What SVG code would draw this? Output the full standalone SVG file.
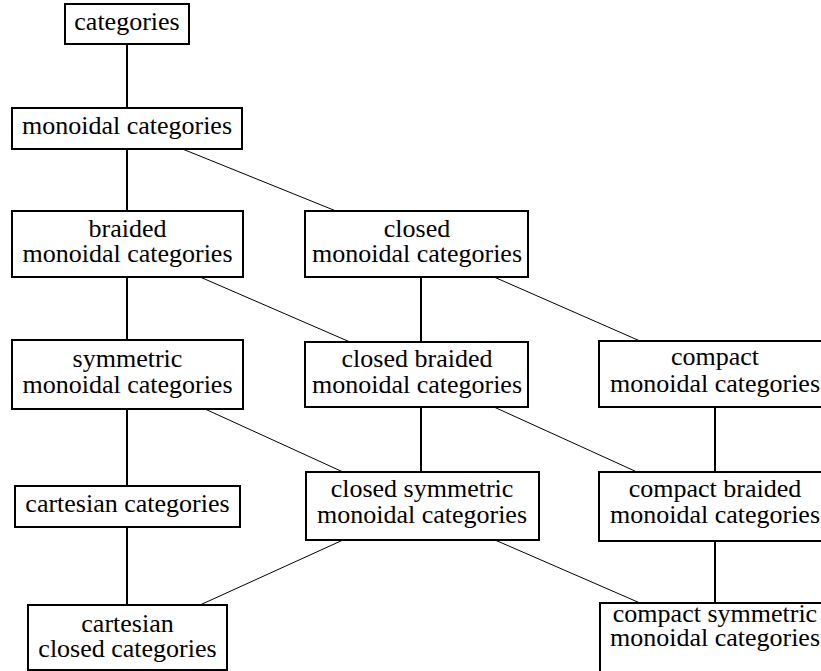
<svg xmlns="http://www.w3.org/2000/svg" width="821" height="671" viewBox="0 0 821 671">
<style>
.box{fill:#fff;stroke:#000;stroke-width:2}
.t{font-family:'Liberation Serif','Times New Roman','DejaVu Serif',serif;font-size:26px;fill:#000;text-anchor:middle}
.v{stroke:#000;stroke-width:2;fill:none}
.d{stroke:#000;stroke-width:1;fill:none}
</style>
<rect width="821" height="671" fill="#fff"/>
<g id="connectors">
<line class="v" x1="127" y1="44" x2="127" y2="108"/>
<line class="v" x1="127" y1="149" x2="127" y2="211"/>
<line class="v" x1="127" y1="277" x2="127" y2="340"/>
<line class="v" x1="127" y1="409" x2="127" y2="486"/>
<line class="v" x1="127" y1="527" x2="127" y2="605"/>
<line class="v" x1="421" y1="277" x2="421" y2="342"/>
<line class="v" x1="421" y1="407" x2="421" y2="472"/>
<line class="v" x1="715" y1="407" x2="715" y2="472"/>
<line class="v" x1="715" y1="541" x2="715" y2="603"/>
<line class="d" x1="180" y1="148" x2="336" y2="211"/>
<line class="d" x1="200" y1="277" x2="350" y2="342"/>
<line class="d" x1="494" y1="277" x2="640" y2="341"/>
<line class="d" x1="205" y1="409" x2="343" y2="472"/>
<line class="d" x1="494" y1="407" x2="637" y2="472"/>
<line class="d" x1="343" y1="540" x2="200" y2="605"/>
<line class="d" x1="495" y1="540" x2="640" y2="603"/>
</g>
<g id="n-categories"><rect class="box" x="65" y="4" width="124" height="40"/><text class="t" x="127" y="30">categories</text></g>
<g id="n-monoidal"><rect class="box" x="12" y="108" width="230" height="41"/><text class="t" x="127" y="134">monoidal categories</text></g>
<g id="n-braided"><rect class="box" x="12" y="211" width="231" height="66"/><text class="t" y="237"><tspan x="127.5">braided</tspan><tspan x="127.5" dy="25">monoidal categories</tspan></text></g>
<g id="n-closed"><rect class="box" x="305" y="211" width="223" height="66"/><text class="t" y="237"><tspan x="417">closed</tspan><tspan x="417" dy="25">monoidal categories</tspan></text></g>
<g id="n-symmetric"><rect class="box" x="12" y="340" width="231" height="69"/><text class="t" y="367"><tspan x="127.5">symmetric</tspan><tspan x="127.5" dy="26">monoidal categories</tspan></text></g>
<g id="n-closed-braided"><rect class="box" x="305" y="342" width="223" height="65"/><text class="t" y="367"><tspan x="417">closed braided</tspan><tspan x="417" dy="26">monoidal categories</tspan></text></g>
<g id="n-compact"><rect class="box" x="599" y="341" width="232" height="66"/><text class="t" y="365"><tspan x="715">compact</tspan><tspan x="715" dy="27">monoidal categories</tspan></text></g>
<g id="n-cartesian"><rect class="box" x="15" y="486" width="225" height="41"/><text class="t" x="127.5" y="512">cartesian categories</text></g>
<g id="n-closed-symmetric"><rect class="box" x="306" y="472" width="233" height="68"/><text class="t" y="497"><tspan x="422">closed symmetric</tspan><tspan x="422" dy="26">monoidal categories</tspan></text></g>
<g id="n-compact-braided"><rect class="box" x="599" y="472" width="232" height="69"/><text class="t" y="497"><tspan x="715">compact braided</tspan><tspan x="715" dy="26">monoidal categories</tspan></text></g>
<g id="n-cartesian-closed"><rect class="box" x="28" y="605" width="199" height="65"/><text class="t" y="632"><tspan x="127.5">cartesian</tspan><tspan x="127.5" dy="25">closed categories</tspan></text></g>
<g id="n-compact-symmetric"><rect class="box" x="600" y="603" width="231" height="72"/><text class="t" y="622"><tspan x="715">compact symmetric</tspan><tspan x="715" dy="24">monoidal categories</tspan></text></g>
</svg>
